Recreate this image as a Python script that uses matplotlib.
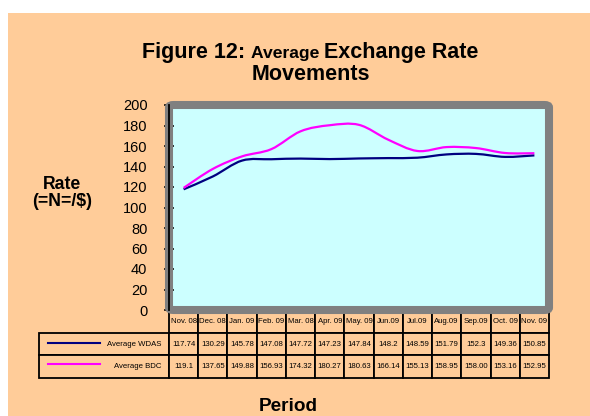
import numpy as np
import matplotlib.pyplot as plt
from matplotlib.path import Path
from matplotlib.patches import PathPatch, FancyBboxPatch, Rectangle
from matplotlib.lines import Line2D

plt.rcParams["font.family"] = ["Liberation Sans", "DejaVu Sans"]

months = ["Nov. 08", "Dec. 08", "Jan. 09", "Feb. 09", "Mar. 08", "Apr. 09", "May. 09",
          "Jun.09", "Jul.09", "Aug.09", "Sep.09", "Oct. 09", "Nov. 09"]
wdas_txt = ["117.74", "130.29", "145.78", "147.08", "147.72", "147.23", "147.84",
            "148.2", "148.59", "151.79", "152.3", "149.36", "150.85"]
bdc_txt = ["119.1", "137.65", "149.88", "156.93", "174.32", "180.27", "180.63",
           "166.14", "155.13", "158.95", "158.00", "153.16", "152.95"]
series_names = ["Average WDAS", "Average BDC"]
yticks = list(range(0, 201, 20))

wdas = [float(v) for v in wdas_txt]
bdc = [float(v) for v in bdc_txt]

PEACH = "#FFCC99"
CYAN = "#CCFFFF"
GREY = "#808080"
NAVY = "#000080"
MAGENTA = "#FF00FF"

W, H = 590, 416


def smooth_path(xs, ys):
    # excel-like smoothed line: cubic bezier through the points
    pts = np.column_stack([xs, ys])
    ext = np.vstack([pts[0], pts, pts[-1]])
    verts = [pts[0]]
    codes = [Path.MOVETO]
    for i in range(len(pts) - 1):
        p0, p1, p2, p3 = ext[i], ext[i + 1], ext[i + 2], ext[i + 3]
        verts += [p1 + (p2 - p0) / 6, p2 - (p3 - p1) / 6, p2]
        codes += [Path.CURVE4] * 3
    return Path(verts, codes)


fig = plt.figure(figsize=(W / 100, H / 100), dpi=100, facecolor="white")
fig.add_artist(Rectangle((8 / W, 0), (W - 8) / W, (H - 13) / H, transform=fig.transFigure,
                         fc=PEACH, ec="none", zorder=-10))

# plot area in pixels: x 169..549, y 105..310
ax = fig.add_axes([169 / W, 1 - 310 / H, 380 / W, 205 / H])
ax.set_facecolor(CYAN)

x = np.arange(len(months))
for vals, col in [(wdas, NAVY), (bdc, MAGENTA)]:
    ax.add_patch(PathPatch(smooth_path(x, vals), fc="none", ec=col, lw=1.6, zorder=3))

ax.set_xlim(-0.5, len(months) - 0.5)
ax.set_ylim(0, 200)
ax.set_yticks(yticks)
ax.set_xticks([])
for s in ["top", "right", "bottom"]:
    ax.spines[s].set_visible(False)
ax.spines["left"].set_color("black")
ax.spines["left"].set_linewidth(1.3)
ax.spines["left"].set_zorder(5)
ax.tick_params(axis="y", direction="inout", length=7, width=1.1, pad=12, labelsize=10.5)

frame = FancyBboxPatch((0, 0), 1, 1, boxstyle="round,pad=0,rounding_size=0.012",
                       transform=ax.transAxes, fc="none", ec=GREY, lw=5.8,
                       clip_on=False, zorder=4)
ax.add_patch(frame)

# data table under the plot
cells = [[""] + months, [series_names[0]] + wdas_txt, [series_names[1]] + bdc_txt]
first_w = 130 / 380
tbl = ax.table(cellText=cells, colWidths=[first_w] + [1 / 13] * 13,
               cellLoc="center", bbox=[-first_w, -68 / 205, first_w + 1.0, 68 / 205])
tbl.auto_set_font_size(False)
tbl.set_fontsize(5.6)
for (r, c), cell in tbl.get_celld().items():
    cell.set_facecolor(PEACH)
    cell.set_edgecolor("black")
    cell.set_linewidth(1.3)
    if r == 0 and c == 0:
        cell.visible_edges = "open"
        cell.set_facecolor("none")
    if c == 0 and r > 0:
        cell.PAD = 0.06
        cell.set_text_props(ha="right")

for yy, col in [(343, NAVY), (364, MAGENTA)]:
    ax.add_line(Line2D([(48 - 169) / 380, (100 - 169) / 380], [(310 - yy) / 205] * 2,
                       transform=ax.transAxes, color=col, lw=1.5, clip_on=False))

# title with mixed font sizes
renderer = fig.canvas.get_renderer()
parts = [("Figure 12: ", 15.5), ("Average ", 12.6), ("Exchange Rate", 15.5)]
texts = [fig.text(0, 1 - 58 / H, t, fontsize=s, fontweight="bold", va="baseline")
         for t, s in parts]
widths = [t.get_window_extent(renderer).width for t in texts]
x0 = 310 - sum(widths) / 2
for t, w in zip(texts, widths):
    t.set_x(x0 / W)
    x0 += w
fig.text(311 / W, 1 - 80 / H, "Movements", fontsize=15.5, fontweight="bold",
         ha="center", va="baseline")

fig.text(62 / W, 1 - 193 / H, "Rate\n(=N=/$)", fontsize=12.7, fontweight="bold",
         ha="center", va="center", multialignment="center", linespacing=1.05)
fig.text(288 / W, 1 - 411 / H, "Period", fontsize=13.7, fontweight="bold",
         ha="center", va="baseline")

fig.savefig("out.png", dpi=100, facecolor=fig.get_facecolor())
